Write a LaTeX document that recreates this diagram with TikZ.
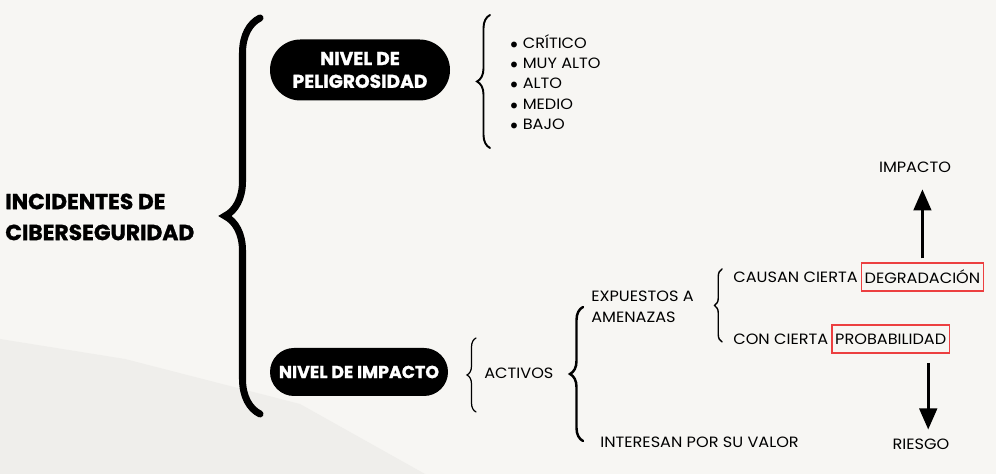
\documentclass[tikz,border=0pt]{standalone}
\usepackage{fontspec}
\setmainfont{Poppins}
\newfontfamily\bodyfont[FakeStretch=1.08]{Poppins}
\newfontfamily\heavyfont[FakeBold=1.2]{Poppins}
\usetikzlibrary{positioning,arrows.meta,decorations.pathreplacing}

\definecolor{paper}{HTML}{F7F6F3}
\definecolor{stain}{HTML}{EFEEEB}
\definecolor{markred}{HTML}{EC3F40}

\tikzset{
	pill/.style={rectangle, rounded corners=#1, fill=black, text=white, align=center, inner sep=2pt},
	txt/.style={font=\bodyfont\fontsize{8.5}{12}\selectfont, inner sep=0pt},
	redbox/.style={draw=markred, line width=0.9pt, inner xsep=1.8pt, minimum height=0.57cm},
	curly/.style={decorate, decoration={brace, amplitude=#1}, line cap=round},
	arr/.style={-{Triangle[length=12pt,width=10pt]}, line width=1.7pt}
}

\begin{document}
\begin{tikzpicture}
				\fill[paper] (0,0) rectangle (19.92,9.48);
				\fill[stain] (0,0) -- (0,2.7) -- (2.5,2.3) -- (6,1.4) -- (8.5,0) -- cycle;
				\useasboundingbox (0,0) rectangle (19.92,9.48);

				\node[font=\heavyfont\bfseries\fontsize{12.4}{17.6}\selectfont, align=left, anchor=west, inner sep=0pt] (title) at (0.1,5.14) {INCIDENTES DE\\CIBERSEGURIDAD};
				\node[pill=0.61cm, minimum width=3.6cm, minimum height=1.22cm, font=\heavyfont\bfseries\fontsize{10.6}{13}\selectfont] (peli) at (7.2,8.08) {NIVEL DE\\PELIGROSIDAD};
				\node[pill=0.48cm, minimum width=3.56cm, minimum height=0.96cm, font=\heavyfont\bfseries\fontsize{9.9}{12}\selectfont] (impact) at (7.18,2.04) {NIVEL DE IMPACTO};

				\node[txt, anchor=west, align=left, font=\bodyfont\fontsize{8.5}{11.5}\selectfont] (levels) at (10.2,7.84)
				{$\bullet$\,\,CRÍTICO\\$\bullet$\,\,MUY ALTO\\$\bullet$\,\,ALTO\\$\bullet$\,\,MEDIO\\$\bullet$\,\,BAJO};

				\node[txt, anchor=west] (activos) at (9.68,2.02) {ACTIVOS};
				\node[txt, anchor=west, align=left] (expuestos) at (11.82,3.35) {EXPUESTOS A\\AMENAZAS};
				\node[txt, anchor=west] (interesan) at (12.0,0.64) {INTERESAN POR SU VALOR};

				\node[txt, anchor=west] (causan) at (14.66,3.94) {CAUSAN CIERTA};
				\node[txt, redbox, right=1.5pt of causan] (degr) {DEGRADACIÓN};
				\node[txt, anchor=west] (con) at (14.66,2.7) {CON CIERTA};
				\node[txt, redbox, right=1.5pt of con] (prob) {PROBABILIDAD};

				\node[txt] (impacto) at (18.3,6.14) {IMPACTO};
				\node[txt] (riesgo) at (18.42,0.6) {RIESGO};

				% braces
				\draw[curly=0.7cm, line width=4pt] (5.2,1.2) -- (5.2,9.12);
				\draw[curly=0.26cm, line width=1.1pt] (9.8,6.52) -- (9.8,9.18);
				\draw[curly=0.18cm, line width=0.7pt] (9.52,1.24) -- (9.52,2.72);
				\draw[curly=0.26cm, line width=1.4pt] (11.66,0.66) -- (11.66,3.34);
				\draw[curly=0.15cm, line width=0.8pt] (14.44,2.64) -- (14.44,4.1);

				\draw[arr, shorten <=2pt, shorten >=9.5pt] (degr.north) -- (degr.north |- impacto.south);
				\draw[arr, shorten <=5pt, shorten >=5pt] ([xshift=0.75cm]prob.south) -- ([xshift=0.75cm]prob.south |- riesgo.north);
			\end{tikzpicture}
\end{document}
